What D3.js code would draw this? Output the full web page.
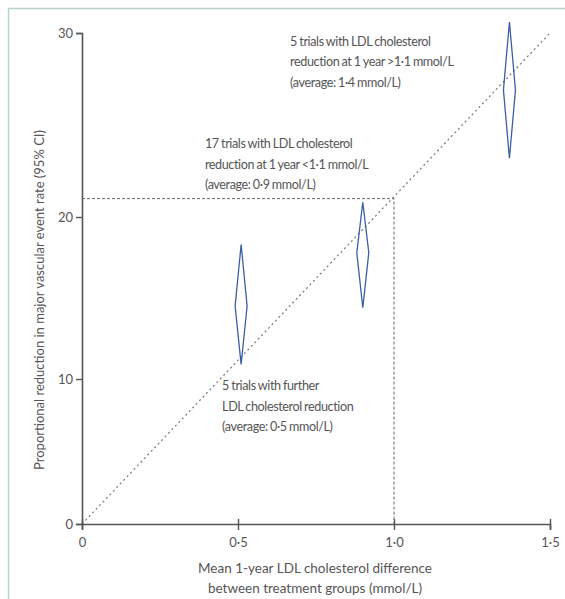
<!DOCTYPE html>
<html>
<head>
<meta charset="utf-8">
<script src="https://cdn.jsdelivr.net/npm/d3@7"></script>
<style>
  body { margin: 0; background: #fff; }
  svg text { font-family: Lato, "Open Sans", sans-serif; fill: #555; }
</style>
</head>
<body>
<script>
// trial groups: mean LDL difference, point estimate, 95% CI
var groupX = [0.51, 0.9, 1.37];
var groupMid = [14.5, 17.8, 26.9];
var groupLow = [10.9, 14.4, 23.2];
var groupHigh = [18.3, 20.8, 30.6];

var xTicks = [0, 0.5, 1.0, 1.5];
var xTickLabels = ['0', '0·5', '1·0', '1·5'];
var yTicks = [0, 10, 20, 30];

var refX = [0, 1.5];
var refY = [0, 30];
var crossX = 1.0, crossY = 21;

var notes = [
  { x: 0.667, y: 29.3, lines: ['5 trials with LDL cholesterol', 'reduction at 1 year >1·1 mmol/L', '(average: 1·4 mmol/L)'] },
  { x: 0.394, y: 23.75, lines: ['17 trials with LDL cholesterol', 'reduction at 1 year <1·1 mmol/L', '(average: 0·9 mmol/L)'] },
  { x: 0.449, y: 9.24, lines: ['5 trials with further', 'LDL cholesterol reduction', '(average: 0·5 mmol/L)'] }
];

var svg = d3.select('body').append('svg')
    .attr('width', 565)
    .attr('height', 599);

// frame of the figure panel
svg.append('rect')
    .attr('x', 8.5).attr('y', 8.5)
    .attr('width', 600).attr('height', 620)
    .attr('fill', 'none')
    .attr('stroke', '#b9d2d0')
    .attr('stroke-width', 1.5);

var x = d3.scaleLinear()
    .domain([0, 1.5])
    .range([82, 550]);

// the printed axis is not evenly spaced, so map each tick
var y = d3.scaleLinear()
    .domain([0, 10, 20, 30])
    .range([524, 379, 217, 33]);

// reference lines
svg.append('path')
    .attr('d', d3.line()([[x(refX[0]), y(refY[0])], [x(refX[1]), y(refY[1])]]))
    .attr('stroke', '#777').attr('stroke-width', 1.2)
    .attr('stroke-dasharray', '2,3').attr('fill', 'none');

svg.append('path')
    .attr('d', d3.line()([[x(0), y(crossY)], [x(crossX), y(crossY)], [x(crossX), y(0)]]))
    .attr('stroke', '#666').attr('stroke-width', 1)
    .attr('stroke-dasharray', '3,2').attr('fill', 'none');

// axes
var yAxis = svg.append('g')
    .attr('transform', 'translate(' + x(0) + ',0)')
    .call(d3.axisLeft(y).tickValues(yTicks).tickSize(6).tickPadding(3).tickFormat(d3.format('d')));
var xAxis = svg.append('g')
    .attr('transform', 'translate(0,' + y(0) + ')')
    .call(d3.axisBottom(x).tickValues(xTicks).tickSize(6).tickPadding(8)
      .tickFormat(function(d, i) { return xTickLabels[i]; }));

[yAxis, xAxis].forEach(function(g) {
  g.select('.domain').attr('stroke', '#555').attr('stroke-width', 1.6);
  g.selectAll('.tick line').attr('stroke', '#555').attr('stroke-width', 1.4);
  g.selectAll('.tick text').style('font-size', '13px').attr('fill', '#555');
});
xAxis.selectAll('.tick line').attr('y1', -5);

// diamonds
var w = 6;
svg.selectAll('path.diamond')
  .data(groupX)
  .enter().append('path')
    .attr('class', 'diamond')
    .attr('d', function(d, i) {
      var cx = x(d);
      return d3.line()([[cx, y(groupHigh[i])], [cx + w, y(groupMid[i])],
                        [cx, y(groupLow[i])], [cx - w, y(groupMid[i])]]) + 'Z';
    })
    .attr('fill', 'none')
    .attr('stroke', '#3b5ea6')
    .attr('stroke-width', 1.3);

// annotations
notes.forEach(function(n) {
  var t = svg.append('text')
      .attr('x', x(n.x))
      .attr('y', y(n.y))
      .style('font-size', '12.6px')
      .style('letter-spacing', '-0.4px')
      .style('word-spacing', '-0.5px');
  t.selectAll('tspan').data(n.lines).enter().append('tspan')
      .attr('x', x(n.x))
      .attr('dy', function(d, i) { return i ? 20.5 : 0; })
      .text(function(d) { return d; });
});

// axis titles
svg.append('text')
    .attr('transform', 'translate(44,' + 300 + ') rotate(-90)')
    .attr('text-anchor', 'middle')
    .style('font-size', '13px')
    .text('Proportional reduction in major vascular event rate (95% CI)');

var xt = svg.append('text')
    .attr('text-anchor', 'middle')
    .style('font-size', '13.5px');
xt.append('tspan').attr('x', 315).attr('y', 573).text('Mean 1-year LDL cholesterol difference');
xt.append('tspan').attr('x', 315).attr('y', 593).text('between treatment groups (mmol/L)');
</script>
</body>
</html>
